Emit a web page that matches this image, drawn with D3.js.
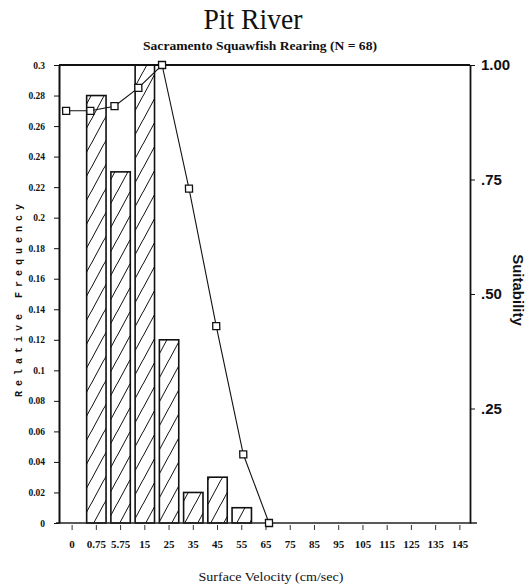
<!DOCTYPE html>
<html>
<head>
<meta charset="utf-8">
<script src="https://cdn.jsdelivr.net/npm/d3@7"></script>
<style>
  html, body { margin: 0; padding: 0; background: #fff; }
  svg { display: block; }
</style>
</head>
<body>
<script>
// ---- data ----
const categories = ["0","0.75","5.75","15","25","35","45","55","65","75","85","95","105","115","125","135","145"];
const relFreq    = [0, 0.28, 0.23, 0.30, 0.12, 0.02, 0.03, 0.01, 0, 0, 0, 0, 0, 0, 0, 0, 0];
const suitCats   = ["0","0.75","5.75","15","25","35","45","55","65"];
const suitability = [0.90, 0.90, 0.91, 0.95, 1.00, 0.73, 0.43, 0.15, 0.00];
const yTickValues = [0, 0.02, 0.04, 0.06, 0.08, 0.1, 0.12, 0.14, 0.16, 0.18, 0.2, 0.22, 0.24, 0.26, 0.28, 0.3];
const yTickLabels = ["0","0.02","0.04","0.06","0.08","0.1","0.12","0.14","0.16","0.18","0.2","0.22","0.24","0.26","0.28","0.3"];
const sTickValues = [0.25, 0.5, 0.75, 1.0];
const sTickLabels = [".25", ".50", ".75", "1.00"];
const titleText = "Pit River";
const subtitleText = "Sacramento Squawfish Rearing (N = 68)";
const xTitle = "Surface Velocity (cm/sec)";
const yTitle = "Relative Frequency";
const y2Title = "Suitability";

// ---- layout ----
const W = 532, H = 588;
const pL = 59, pR = 470, pT = 65, pB = 523;

const svg = d3.select("body").append("svg").attr("width", W).attr("height", H);

const defs = svg.append("defs");
const hw = 13, hh = 24;
defs.append("pattern")
  .attr("id", "hatch")
  .attr("patternUnits", "userSpaceOnUse")
  .attr("width", hw).attr("height", hh)
  .call(p => {
    p.append("rect").attr("width", hw).attr("height", hh).attr("fill", "#fff");
    p.append("path")
      .attr("d", `M-1,${hh + 2} L${hw + 1},-2 M${hw - 1},${hh + 2} L${hw * 2 + 1},-2 M${-hw - 1},${hh + 2} L1,-2`)
      .attr("stroke", "#111").attr("stroke-width", 1);
  });

const x = d3.scaleBand().domain(categories).range([pL + 1, pR + 2]).paddingInner(0.2).paddingOuter(0.1);
const xc = d => x(d) + x.bandwidth() / 2;
const yF = d3.scaleLinear().domain([0, 0.3]).range([pB, pT]);
const yS = d3.scaleLinear().domain([0, 1]).range([pB, pT]);

// titles
svg.append("text").attr("x", 253).attr("y", 29)
  .attr("text-anchor", "middle")
  .attr("font-family", "Liberation Serif, serif").attr("font-size", 29)
  .attr("textLength", 99).attr("lengthAdjust", "spacingAndGlyphs")
  .attr("fill", "#111")
  .text(titleText);
svg.append("text").attr("x", 260).attr("y", 50)
  .attr("text-anchor", "middle")
  .attr("font-family", "Liberation Serif, serif").attr("font-size", 11.5).attr("font-weight", "bold")
  .attr("textLength", 234).attr("lengthAdjust", "spacingAndGlyphs")
  .attr("fill", "#111")
  .text(subtitleText);

// bars
svg.append("g").selectAll("rect")
  .data(categories.map((c, i) => ({ c, v: relFreq[i] })).filter(d => d.v > 0))
  .join("rect")
  .attr("x", d => x(d.c))
  .attr("width", x.bandwidth())
  .attr("y", d => yF(d.v))
  .attr("height", d => yF(0) - yF(d.v))
  .attr("fill", "url(#hatch)")
  .attr("stroke", "#111").attr("stroke-width", 1.6);

// frame: top line
svg.append("line").attr("x1", pL).attr("x2", pR).attr("y1", pT).attr("y2", pT)
  .attr("stroke", "#111").attr("stroke-width", 2);

// bottom axis
svg.append("line").attr("x1", pL - 3).attr("x2", pR + 7).attr("y1", pB).attr("y2", pB)
  .attr("stroke", "#222").attr("stroke-width", 1.3);
const gx = svg.append("g").attr("transform", `translate(0,${pB})`)
  .call(d3.axisBottom(x).tickSize(6).tickPadding(11).tickSizeOuter(0));
gx.select(".domain").remove();
gx.selectAll(".tick line").attr("stroke", "#333").attr("y1", 2).attr("y2", 7);
gx.selectAll(".tick text")
  .attr("font-family", "Liberation Serif, serif").attr("font-size", 11).attr("font-weight", "bold")
  .attr("fill", "#111");

// left axis
const gy = svg.append("g").attr("transform", `translate(${pL},0)`)
  .call(d3.axisLeft(yF).tickValues(yTickValues).tickFormat((d, i) => yTickLabels[i]).tickSize(5).tickPadding(9).tickSizeOuter(0));
gy.select(".domain").attr("stroke", "#111").attr("stroke-width", 2);
gy.selectAll(".tick line").attr("stroke", "#111");
gy.selectAll(".tick text")
  .attr("font-family", "Liberation Serif, serif").attr("font-size", 9.5).attr("font-weight", "bold")
  .attr("fill", "#111");

// right axis
const gr = svg.append("g").attr("transform", `translate(${pR},0)`)
  .call(d3.axisRight(yS).tickValues(sTickValues).tickFormat((d, i) => sTickLabels[i]).tickSize(5).tickPadding(6).tickSizeOuter(0));
gr.select(".domain").attr("stroke", "#111").attr("stroke-width", 1.8);
gr.selectAll(".tick line").attr("stroke", "#111");
gr.selectAll(".tick text")
  .attr("font-family", "Liberation Sans, Arial, sans-serif").attr("font-size", 15).attr("font-weight", "bold")
  .attr("fill", "#111");

// suitability line (slightly sheared, as in the scanned original)
const pivot = 385;
const shear = Math.atan(10 / (pB - pT)) * 180 / Math.PI;
const gs = svg.append("g")
  .attr("transform", `translate(0,${pivot}) skewX(${shear}) translate(0,${-pivot})`);
const sData = suitCats.map((c, i) => ({ c, v: suitability[i] }));
gs.append("path")
  .datum(sData)
  .attr("fill", "none").attr("stroke", "#111").attr("stroke-width", 1.1)
  .attr("d", d3.line().x(d => xc(d.c)).y(d => yS(d.v)));
gs.selectAll("rect.m").data(sData).join("rect")
  .attr("class", "m")
  .attr("x", d => xc(d.c) - 3.5).attr("y", d => yS(d.v) - 3.5)
  .attr("width", 7).attr("height", 7)
  .attr("fill", "#fff").attr("stroke", "#111").attr("stroke-width", 1.3);

// axis titles
svg.append("text").attr("x", 271).attr("y", 581)
  .attr("text-anchor", "middle")
  .attr("font-family", "Liberation Serif, serif").attr("font-size", 12.5)
  .attr("textLength", 145).attr("lengthAdjust", "spacingAndGlyphs")
  .attr("fill", "#111")
  .text(xTitle);
svg.append("text")
  .attr("transform", "translate(22,298) rotate(-90)")
  .attr("text-anchor", "middle")
  .attr("font-family", "Liberation Mono, monospace").attr("font-size", 10).attr("font-weight", "bold")
  .attr("letter-spacing", 5)
  .attr("fill", "#111")
  .text(yTitle);
svg.append("text")
  .attr("transform", "translate(513,290) rotate(90)")
  .attr("text-anchor", "middle")
  .attr("font-family", "Liberation Sans, Arial, sans-serif").attr("font-size", 15).attr("font-weight", "bold")
  .attr("fill", "#111")
  .text(y2Title);
</script>
</body>
</html>
